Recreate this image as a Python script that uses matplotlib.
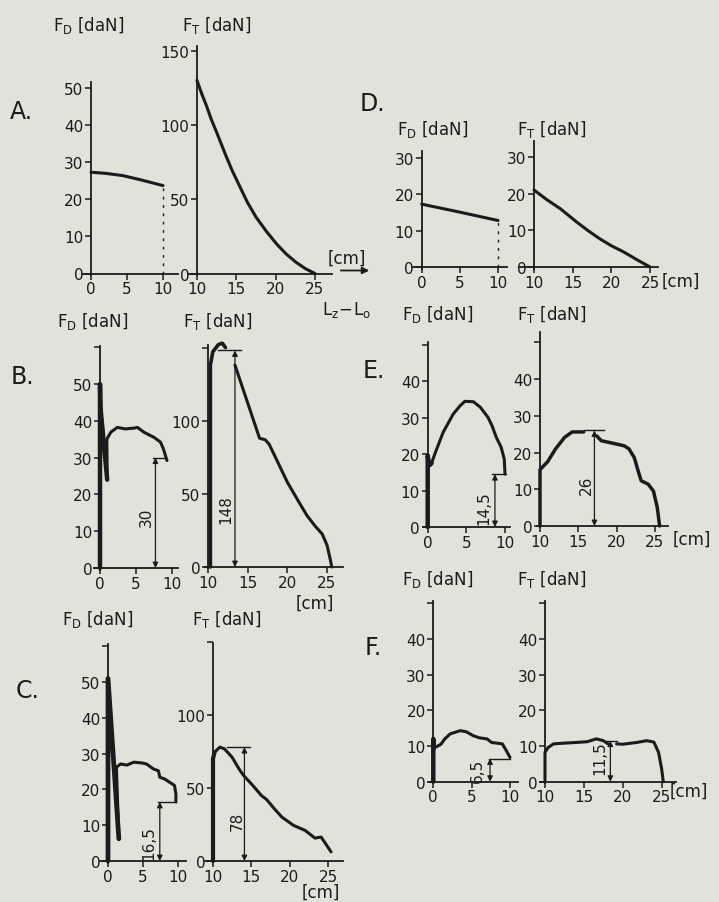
import matplotlib
matplotlib.use('Agg')
import matplotlib.pyplot as plt

plt.rcParams['font.family'] = ['DejaVu Sans']
plt.rcParams['mathtext.fontset'] = 'dejavusans'

# ---------------- data ----------------
# Panel A
A_FD_x = [0, 2, 4.4, 7, 10]
A_FD_y = [27.3, 27.0, 26.4, 25.2, 23.7]
A_FT_x = [10, 10.6, 11.2, 11.8, 12.5, 13.1, 13.7, 14.5, 15.4, 16.4, 17.5, 18.8, 20.1,
          21.3, 22.6, 23.8, 25]
A_FT_y = [130, 121, 113, 104, 95, 87, 79, 69, 59, 48, 38, 28.5, 20, 13.3, 7.5, 3.2, 0]

# Panel D
D_FD_x = [0, 5, 10]
D_FD_y = [17.3, 15.1, 12.8]
D_FT_x = [10, 11.7, 13.4, 15.5, 17, 18.5, 20, 21.6, 23.3, 25]
D_FT_y = [21, 18.3, 15.9, 12.3, 9.9, 7.7, 5.8, 4.1, 2.0, 0]

# Panel B
B_FD_x = [0, 0, 0.05, 1.0, 0.95, 1.5, 2.4, 3.5, 4.7, 5.2, 6.1, 7.5, 8.4, 8.8, 9.3]
B_FD_y = [0, 50, 44, 24, 35, 36.9, 38.2, 37.8, 38, 38.2, 36.9, 35.5, 34.2, 32.4, 29.2]
B_FT_x1 = [10.3, 10.3, 10.6, 11.3, 11.8, 12.2]
B_FT_y1 = [0, 138, 147, 152, 153, 150]
B_FT_x2 = [13.4, 16.5, 17.2, 17.7, 18.5, 20, 21.5, 22.5, 23.5, 24.4, 25, 25.4, 25.6]
B_FT_y2 = [138, 88, 87, 84, 75, 58, 44, 35, 28, 22.5, 15, 5.5, 0]

# Panel C
C_FD_x = [0, 0, 1.55, 1.2, 1.8, 2.7, 3.7, 4.8, 5.5, 6.5, 7.2, 7.4, 8.1, 8.8, 9.5, 9.7, 9.7]
C_FD_y = [0, 51, 6.2, 26.2, 27.1, 26.8, 27.6, 27.4, 27.1, 25.7, 25.2, 23.4, 22.9, 22, 21.1, 18.7, 16.5]
C_FT_x = [10, 10, 10.2, 10.9, 11.5, 12.5, 13.4, 14, 15.2, 16.3, 17, 18, 19, 20.5, 22,
          23.3, 24.1, 24.7, 25.4]
C_FT_y = [0, 70, 74.5, 78, 76.8, 71, 63, 58.5, 51.7, 44.9, 42.1, 35.8, 30, 24.4, 21,
          15.7, 16.4, 11.8, 6.2]

# Panel E
E_FD_x = [0, 0, 0.2, 0.5, 1, 2, 3.3, 4.2, 4.8, 5.9, 6.8, 7.8, 8.3, 8.9, 9.5, 9.9, 10]
E_FD_y = [0, 19.6, 16.9, 17.5, 20.5, 26, 31, 33.3, 34.5, 34.4, 32.9, 30.1, 27.9, 24.5, 21.9, 18.7, 14.5]
E_FT_x1 = [10, 10, 10.4, 11, 12, 13.2, 14.2, 15.7]
E_FT_y1 = [0, 15.3, 16.2, 17.5, 20.9, 24.1, 25.6, 25.6]
E_FT_x2 = [17.4, 18, 20, 21, 21.6, 22.3, 22.8, 23.2, 24.1, 24.8, 25.3, 25.6]
E_FT_y2 = [24.5, 23.2, 22.3, 21.8, 21, 18.6, 15, 12.3, 11.4, 9.5, 5, 0]

# Panel F
F_FD_x = [0, 0, 0.1, 0.5, 1, 1.5, 2.2, 3.5, 4.3, 5.2, 6, 7, 7.6, 8.3, 9, 9.6, 10]
F_FD_y = [0, 12, 9.5, 9.9, 10.5, 12, 13.4, 14.3, 14, 12.9, 12.3, 12, 11, 10.8, 10.6, 8.4, 6.8]
F_FT_x1 = [10, 10, 10.4, 11.1, 12.4, 14, 15.4, 16.6, 17.5, 18.1]
F_FT_y1 = [0, 8.2, 9.6, 10.6, 10.8, 11, 11.2, 12, 11.5, 10.6]
F_FT_x2 = [19.2, 20, 21.8, 23.1, 24, 24.6, 25, 25.2]
F_FT_y2 = [10.6, 10.5, 11, 11.5, 11.1, 8.2, 3.5, 0]

# dimension marks
dim_values = {'B_FD': 30, 'B_FT': 148, 'C_FD': 16.5, 'C_FT': 78,
              'E_FD': 14.5, 'E_FT': 26, 'F_FD': 6.5, 'F_FT': 11.5}
dim_labels = {'B_FD': '30', 'B_FT': '148', 'C_FD': '16,5', 'C_FT': '78',
              'E_FD': '14,5', 'E_FT': '26', 'F_FD': '6,5', 'F_FT': '11,5'}
dim_x = {'B_FD': 7.7, 'B_FT': 13.4, 'C_FD': 7.4, 'C_FT': 14.1,
         'E_FD': 8.7, 'E_FT': 17.1, 'F_FD': 7.4, 'F_FT': 18.4}
dim_ext = {'B_FD': (7.4, 9.2), 'B_FT': (11.3, 14.2), 'C_FD': (7.2, 9.7), 'C_FT': (11.8, 14.8),
           'E_FD': (8.3, 10.1), 'E_FT': (15.7, 18.3), 'F_FD': (7.3, 10.0), 'F_FT': (17.7, 19.2)}
dim_text_pos = {'B_FD': (6.4, 14), 'B_FT': (12.3, 40), 'C_FD': (5.9, 5.3), 'C_FT': (13.1, 27.8),
                'E_FD': (7.3, 5.5), 'E_FT': (16.1, 11.4), 'F_FD': (5.8, 3.4), 'F_FT': (17.0, 6.8)}

# ---------------- figure ----------------
W, H = 719, 903
BG = '#e2e1da'
INK = '#1b1b1b'
fig = plt.figure(figsize=(W / 100, H / 100), dpi=100, facecolor=BG)


def make_ax(xd, xp, yd, yp, xlim, ylim):
    sx = (xp[1] - xp[0]) / (xd[1] - xd[0])
    sy = (yp[1] - yp[0]) / (yd[1] - yd[0])
    l = xp[0] + (xlim[0] - xd[0]) * sx
    r = xp[0] + (xlim[1] - xd[0]) * sx
    b = yp[0] + (ylim[0] - yd[0]) * sy
    t = yp[0] + (ylim[1] - yd[0]) * sy
    ax = fig.add_axes([l / W, 1 - b / H, (r - l) / W, (b - t) / H])
    ax.set_xlim(xlim)
    ax.set_ylim(ylim)
    ax.patch.set_alpha(0)
    return ax


def style(ax, x0, xb, yb, xticks, yticks, ylabels):
    for s in ['top', 'right']:
        ax.spines[s].set_visible(False)
    ax.spines['left'].set_position(('data', x0))
    ax.spines['bottom'].set_position(('data', 0))
    ax.spines['left'].set_bounds(*yb)
    ax.spines['bottom'].set_bounds(*xb)
    for s in ['left', 'bottom']:
        ax.spines[s].set_linewidth(1.3)
        ax.spines[s].set_color(INK)
    ax.set_xticks(xticks)
    ax.set_xticklabels([str(v) for v in xticks])
    ax.set_yticks(yticks)
    ax.set_yticklabels(ylabels)
    ax.tick_params(direction='out', length=4, width=1.1, pad=1.5, labelsize=11,
                   colors=INK)


def curve(ax, x, y, lw=2.2):
    ax.plot(x, y, color=INK, lw=lw, clip_on=False, solid_capstyle='round',
            solid_joinstyle='round')


def dim(ax, key):
    v = dim_values[key]
    x = dim_x[key]
    e0, e1 = dim_ext[key]
    ax.plot([e0, e1], [v, v], color=INK, lw=1.0, clip_on=False)
    ax.annotate('', xy=(x, v), xytext=(x, 0),
                arrowprops=dict(arrowstyle='<|-|>', color=INK, lw=0.9,
                                mutation_scale=8, shrinkA=0, shrinkB=0))
    tx, ty = dim_text_pos[key]
    ax.text(tx, ty, dim_labels[key], rotation=90, ha='center', va='center',
            fontsize=11, color=INK)


def ftext(x, y, s, size=12, **kw):
    fig.text(x / W, 1 - y / H, s, fontsize=size, color=INK, va='center', **kw)


FD_LAB = r'$\mathregular{F_D}$ [daN]'
FT_LAB = r'$\mathregular{F_T}$ [daN]'

# ---------------- Panel A ----------------
ax = make_ax((0, 10), (91, 163), (0, 50), (274.5, 89), (-2, 13), (-5, 54))
style(ax, 0, (-1.3, 12.1), (-0.5, 51.6), [0, 5, 10], [0, 10, 20, 30, 40, 50],
      ['0', '10', '20', '30', '40', '50'])
curve(ax, A_FD_x, A_FD_y)
ax.plot([A_FD_x[-1]] * 2, [0, A_FD_y[-1]], color=INK, lw=1.0, ls=(0, (2, 4)), clip_on=False)

ax = make_ax((10, 25), (197, 315), (0, 150), (274.5, 51.7), (8, 28), (-8, 160))
style(ax, 10, (8.9, 27.2), (-1, 153), [10, 15, 20, 25], [0, 50, 100, 150],
      ['0', '50', '100', '150'])
curve(ax, A_FT_x, A_FT_y)

ftext(53, 25, FD_LAB)
ftext(182, 25, FT_LAB)
ftext(10, 112, 'A.', size=17)
ftext(328, 259, '[cm]', size=12)
fig.add_artist(matplotlib.patches.FancyArrowPatch(
    (338 / W, 1 - 271.5 / H), (372 / W, 1 - 271.5 / H), transform=fig.transFigure,
    arrowstyle='-|>', mutation_scale=10, color=INK, lw=1.3))
ftext(322, 310, r'$\mathregular{L_z\!-\!L_o}$', size=12)

# ---------------- Panel D ----------------
ax = make_ax((0, 10), (421.7, 498), (0, 30), (268, 159), (-2, 13), (-3, 34))
style(ax, 0, (-1.1, 11.2), (-0.5, 32), [0, 5, 10], [0, 10, 20, 30],
      ['0', '10', '20', '30'])
curve(ax, D_FD_x, D_FD_y)
ax.plot([D_FD_x[-1]] * 2, [0, D_FD_y[-1]], color=INK, lw=1.0, ls=(0, (2, 4)), clip_on=False)

ax = make_ax((10, 25), (534, 650), (0, 30), (268, 158), (8, 28), (-3, 36))
style(ax, 10, (8.2, 26), (-0.5, 34.4), [10, 15, 20, 25], [0, 10, 20, 30],
      ['0', '10', '20', '30'])
curve(ax, D_FT_x, D_FT_y)

ftext(397, 130, FD_LAB)
ftext(517, 130, FT_LAB)
ftext(360, 104, 'D.', size=17)
ftext(662, 282, '[cm]', size=12)

# ---------------- Panel B ----------------
ax = make_ax((0, 10), (100, 172), (0, 50), (569, 385), (-2, 12), (-5, 63))
style(ax, 0, (-0.8, 10.8), (-0.5, 60.4), [0, 5, 10], [0, 10, 20, 30, 40, 50, 60],
      ['0', '10', '20', '30', '40', '50', ''])
curve(ax, B_FD_x, B_FD_y)
curve(ax, B_FD_x[:4], B_FD_y[:4], lw=3.2)
dim(ax, 'B_FD')

ax = make_ax((10, 25), (208, 327), (0, 100), (568, 421.7), (8, 28), (-8, 160))
style(ax, 10, (9.6, 27), (-1, 152), [10, 15, 20, 25], [0, 50, 100, 150],
      ['0', '50', '100', ''])
curve(ax, B_FT_x1, B_FT_y1, lw=2.6)
curve(ax, B_FT_x2, B_FT_y2)
dim(ax, 'B_FT')

ftext(57, 322, FD_LAB)
ftext(183, 322, FT_LAB)
ftext(11, 377, 'B.', size=17)
ftext(296, 604, '[cm]', size=12)

# ---------------- Panel C ----------------
ax = make_ax((0, 10), (108, 178), (0, 50), (862, 683), (-2, 12), (-5, 63))
style(ax, 0, (-1.1, 11.2), (-0.5, 60.6), [0, 5, 10], [0, 10, 20, 30, 40, 50, 60],
      ['0', '10', '20', '30', '40', '50', ''])
curve(ax, C_FD_x, C_FD_y)
curve(ax, C_FD_x[:3], C_FD_y[:3], lw=3.4)
dim(ax, 'C_FD')

ax = make_ax((10, 25), (213, 328), (0, 100), (862, 716), (8, 28), (-8, 160))
style(ax, 10, (9.0, 27), (-1, 149), [10, 15, 20, 25], [0, 50, 100, 150],
      ['0', '50', '100', ''])
curve(ax, C_FT_x, C_FT_y)
curve(ax, C_FT_x[:3], C_FT_y[:3], lw=3.0)
dim(ax, 'C_FT')

ftext(62, 620, FD_LAB)
ftext(192, 620, FT_LAB)
ftext(16, 691, 'C.', size=17)
ftext(302, 893, '[cm]', size=12)

# ---------------- Panel E ----------------
ax = make_ax((0, 10), (427.7, 505), (0, 40), (528, 382.3), (-2, 12), (-5, 54))
style(ax, 0, (-0.6, 10.7), (-0.3, 50.7), [0, 5, 10], [0, 10, 20, 30, 40, 50],
      ['0', '10', '20', '30', '40', ''])
curve(ax, E_FD_x, E_FD_y)
curve(ax, E_FD_x[:4], E_FD_y[:4], lw=3.2)
dim(ax, 'E_FD')

ax = make_ax((10, 25), (540, 655), (0, 40), (527, 380), (8, 28), (-5, 55))
style(ax, 10, (9.6, 26.7), (-0.3, 52.8), [10, 15, 20, 25], [0, 10, 20, 30, 40, 50],
      ['0', '10', '20', '30', '40', ''])
curve(ax, E_FT_x1, E_FT_y1, lw=2.5)
curve(ax, E_FT_x2, E_FT_y2, lw=2.5)
dim(ax, 'E_FT')

ftext(402, 315, FD_LAB)
ftext(517, 315, FT_LAB)
ftext(363, 371, 'E.', size=17)
ftext(673, 540, '[cm]', size=12)

# ---------------- Panel F ----------------
ax = make_ax((0, 10), (433.3, 510), (0, 40), (782.7, 640), (-2, 12), (-5, 54))
style(ax, 0, (-0.6, 11.1), (-0.3, 50.7), [0, 5, 10], [0, 10, 20, 30, 40, 50],
      ['0', '10', '20', '30', '40', ''])
curve(ax, F_FD_x, F_FD_y)
curve(ax, F_FD_x[:3], F_FD_y[:3], lw=3.2)
dim(ax, 'F_FD')

ax = make_ax((10, 25), (545, 661.7), (0, 40), (782.7, 640), (8, 28), (-5, 54))
style(ax, 10, (9.3, 26.8), (-0.3, 50.7), [10, 15, 20, 25], [0, 10, 20, 30, 40, 50],
      ['0', '10', '20', '30', '40', ''])
curve(ax, F_FT_x1, F_FT_y1)
curve(ax, F_FT_x2, F_FT_y2)
dim(ax, 'F_FT')

ftext(402, 580, FD_LAB)
ftext(517, 580, FT_LAB)
ftext(365, 648, 'F.', size=17)
ftext(670, 792, '[cm]', size=12)

fig.savefig('out.png', dpi=100, facecolor=BG)
